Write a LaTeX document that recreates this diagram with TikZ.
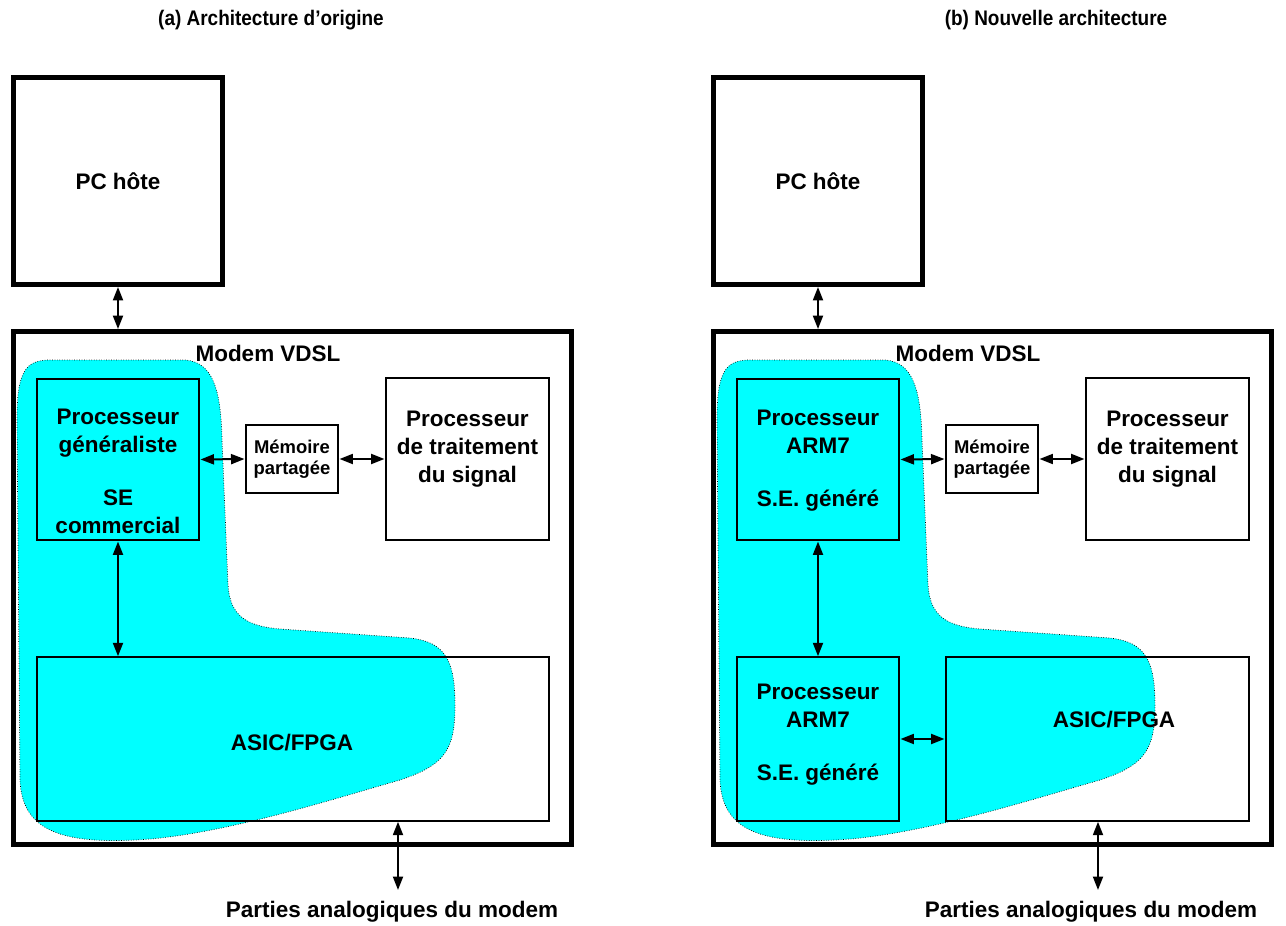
\documentclass[tikz,border=0pt]{standalone}
\usepackage{fontspec}
\setmainfont{Liberation Sans}
\newfontfamily\titrefont[FakeStretch=0.9]{Liberation Sans}
\usetikzlibrary{positioning,arrows.meta}
\definecolor{zoneCyan}{HTML}{00FFFF}

\begin{document}
\begin{tikzpicture}[x=0.02cm, y=-0.02cm,
    >={Triangle[length=0.27cm, width=0.2cm]},
    cadre/.style={draw, line width=0.1cm, inner sep=0pt},
    bloc/.style={draw, line width=0.04cm, inner sep=0pt},
    texte/.style={font=\fontsize{12.8pt}{15.9pt}\selectfont\bfseries, align=center, inner sep=0pt},
    petit/.style={font=\fontsize{10.5pt}{12pt}\selectfont\bfseries, align=center},
    titre/.style={font=\titrefont\fontsize{12pt}{14pt}\selectfont\bfseries, inner sep=0pt},
    lien/.style={<->, line width=0.04cm},
    zone/.style={fill=zoneCyan, draw=black, densely dotted, line width=0.4pt}]

\useasboundingbox (0,0) rectangle (1286,926);

% zones logicielles (meme forme dans les deux schemas)
\foreach \dx in {0,700} {
  \begin{scope}[shift={(\dx,0)}]
    \filldraw[zone] (17,420) .. controls (17,372) and (25,360) .. (50,360)
      -- (185,360) .. controls (213,362) and (221,390) .. (222,440)
      -- (228,585) .. controls (230,615) and (245,626) .. (280,629)
      -- (410,638) .. controls (445,642) and (455,660) .. (455,705)
      .. controls (455,750) and (445,765) .. (400,780)
      .. controls (330,800) and (230,832) .. (150,839)
      .. controls (60,846) and (22,830) .. (20,780) -- cycle;
  \end{scope}
}

% (a) architecture d'origine
\node[titre] (titreA) at (271,20) {(a) Architecture d’origine};
\node[cadre, texte, minimum width=4.17cm, minimum height=4.14cm] (pcA) at (118,181) {PC hôte};
\node[cadre, minimum width=11.18cm, minimum height=10.26cm] (modemA) at (292.5,588) {};
\node[texte] (vdslA) at (268,353) {Modem VDSL};
\node[bloc, minimum width=3.26cm, minimum height=3.24cm] (procA) at (118,459.5) {};
\node[texte, anchor=base] (procAt) at (118,533) {Processeur\\généraliste\\[0.5cm]SE\\commercial};
\node[bloc, petit, minimum width=1.86cm, minimum height=1.38cm] (memA) at (292,459) {Mémoire\\partagée};
\node[bloc, minimum width=3.28cm, minimum height=3.26cm] (dspA) at (467.5,459) {};
\node[texte, anchor=base] (dspAt) at (467.5,482) {Processeur\\de traitement\\du signal};
\node[bloc, minimum width=10.26cm, minimum height=3.27cm] (asicA) at (293,739) {};
\node[texte] (asicAt) at (292,743) {ASIC/FPGA};
\coordinate (anaA) at (398,890);
\node[texte] (partA) at (392,912) {Parties analogiques du modem};

\draw[lien] (pcA.south) -- (pcA.south |- modemA.north);
\draw[lien] (procA.east) -- (memA.west);
\draw[lien] (memA.east) -- (dspA.west);
\draw[lien] (procA.south) -- (procA.south |- asicA.north);
\draw[lien] (asicA.south -| anaA) -- (anaA);

% (b) nouvelle architecture
\node[titre] (titreB) at (1056,20) {(b) Nouvelle architecture};
\node[cadre, texte, minimum width=4.17cm, minimum height=4.14cm] (pcB) at (818,181) {PC hôte};
\node[cadre, minimum width=11.18cm, minimum height=10.26cm] (modemB) at (992.5,588) {};
\node[texte] (vdslB) at (968,353) {Modem VDSL};
\node[bloc, minimum width=3.26cm, minimum height=3.24cm] (armB) at (818,459.5) {};
\node[texte, anchor=base] (armBt) at (818,506) {Processeur\\ARM7\\[0.5cm]S.E. généré};
\node[bloc, petit, minimum width=1.86cm, minimum height=1.38cm] (memB) at (992,459) {Mémoire\\partagée};
\node[bloc, minimum width=3.28cm, minimum height=3.26cm] (dspB) at (1167.5,459) {};
\node[texte, anchor=base] (dspBt) at (1167.5,482) {Processeur\\de traitement\\du signal};
\node[bloc, minimum width=3.26cm, minimum height=3.27cm] (armBb) at (818,739) {};
\node[texte, anchor=base] (armBbt) at (818,780) {Processeur\\ARM7\\[0.5cm]S.E. généré};
\node[bloc, minimum width=6.08cm, minimum height=3.27cm] (asicB) at (1097.5,739) {};
\node[texte] (asicBt) at (1114,720) {ASIC/FPGA};
\coordinate (anaB) at (1098,890);
\node[texte] (partB) at (1091,912) {Parties analogiques du modem};

\draw[lien] (pcB.south) -- (pcB.south |- modemB.north);
\draw[lien] (armB.east) -- (memB.west);
\draw[lien] (memB.east) -- (dspB.west);
\draw[lien] (armB.south) -- (armBb.north);
\draw[lien] (armBb.east) -- (asicB.west);
\draw[lien] (asicB.south -| anaB) -- (anaB);
\end{tikzpicture}
\end{document}
